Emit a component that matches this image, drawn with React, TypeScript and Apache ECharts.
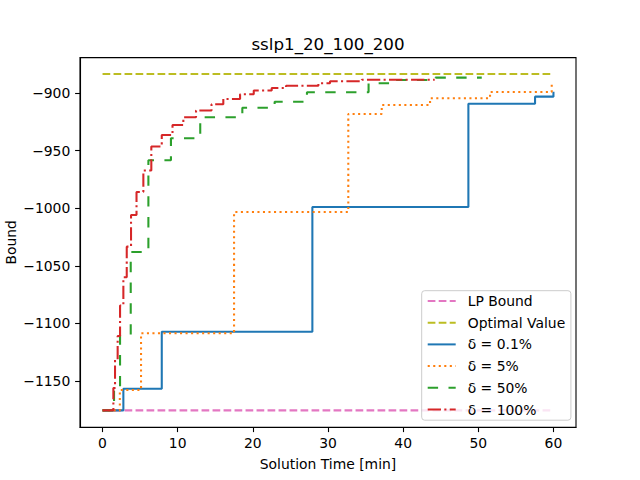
import React, { useEffect, useRef } from "react";
import * as echarts from "echarts";

const FONT = "DejaVu Sans";

const seriesNames = ["LP Bound", "Optimal Value", "δ = 0.1%", "δ = 5%", "δ = 50%", "δ = 100%"];

const lpTimes = [0, 60];
const lpBounds = [-1175.5, -1175.5];

const optTimes = [0, 60];
const optBounds = [-883.5, -883.5];

const d01Times = [0, 2.77, 7.88, 27.92, 48.68, 57.55, 60];
const d01Bounds = [-1175.5, -1156.7, -1107.3, -999, -909.3, -903.2, -899];

const d5Times = [0, 2.3, 5.12, 17.5, 32.7, 37.15, 43.58, 51.56, 59.77];
const d5Bounds = [-1175.5, -1157.8, -1108.6, -1003.3, -918.2, -910.4, -904.6, -899.1, -892.4];

const d50Times = [0, 1.53, 2.33, 3.75, 6.1, 9.1, 13.0, 18.6, 22.9, 27.2, 35.4, 39.0, 44.3, 50.46];
const d50Bounds = [-1175.5, -1156, -1110, -1038, -958.4, -939.3, -921.1, -912.8, -907.6, -899.4, -891.6, -888.7, -886.7, -886.7];

const d100Times = [0, 1.44, 1.66, 2.01, 2.33, 2.77, 3.22, 3.79, 4.52, 5.43, 6.49, 7.88, 9.31, 10.75, 12.44, 14.5, 16.07, 18.3, 20.12, 22.51, 24.42, 28.72, 30.27, 34.5, 44.2];
const d100Bounds = [-1175.5, -1156.1, -1131.8, -1110.9, -1084.5, -1060, -1033.4, -1005.9, -985.9, -967.3, -946.4, -936.5, -927.8, -921.1, -915.2, -909.8, -905.2, -901.1, -897.8, -895.7, -893.7, -891.6, -889.8, -888.5, -888.5];

const xTicks = [0, 10, 20, 30, 40, 50, 60];
const yTicks = [-1150, -1100, -1050, -1000, -950, -900];

const colors = ["#e377c2", "#bcbd22", "#1f77b4", "#ff7f0e", "#2ca02c", "#d62728"];
const dashes: (number[] | "solid")[] = [
  [7.7, 3.3],
  [7.7, 3.3],
  "solid",
  [2.08, 3.44],
  [10.4, 10.4],
  [13.3, 3.33, 2.08, 3.33],
];

const zip = (a: number[], b: number[]) => a.map((v, i) => [v, b[i]]);

export default function App() {
  const ref = useRef<HTMLDivElement>(null);
  useEffect(() => {
    if (!ref.current) return;
    const chart = echarts.init(ref.current, undefined, { renderer: "svg" });
    const dataSets = [
      zip(lpTimes, lpBounds),
      zip(optTimes, optBounds),
      zip(d01Times, d01Bounds),
      zip(d5Times, d5Bounds),
      zip(d50Times, d50Bounds),
      zip(d100Times, d100Bounds),
    ];
    const series = dataSets.map((data, i) => ({
      name: seriesNames[i],
      type: "line",
      data,
      step: i >= 2 ? "end" : undefined,
      symbol: "none",
      showSymbol: false,
      lineStyle: { color: colors[i], width: 2.08, type: dashes[i], cap: "butt" },
      itemStyle: { color: colors[i] },
      emphasis: { disabled: true },
    }));
    chart.setOption({
      animation: false,
      textStyle: { fontFamily: FONT },
      grid: {
        left: 80,
        right: 64,
        top: 57.6,
        bottom: 52.8,
        containLabel: false,
        outerBoundsMode: "none",
        show: true,
        borderColor: "#000",
        borderWidth: 1.1,
        backgroundColor: "transparent",
      },
      graphic: [
        {
          type: "text",
          x: 328,
          y: 44,
          style: {
            text: "sslp1_20_100_200",
            fill: "#000",
            fontSize: 16.7,
            fontFamily: FONT,
            align: "center",
            verticalAlign: "middle",
          },
        },
        {
          type: "text",
          x: 11,
          y: 242.4,
          rotation: Math.PI / 2,
          style: {
            text: "Bound",
            fill: "#000",
            fontSize: 13.9,
            fontFamily: FONT,
            align: "center",
            verticalAlign: "middle",
          },
        },
      ],
      legend: {
        orient: "vertical",
        left: 421.7,
        top: 290.7,
        itemWidth: 28,
        itemHeight: 14,
        itemGap: 7.7,
        padding: [3.3, 5.7, 3.7, 5],
        backgroundColor: "rgba(255,255,255,0.8)",
        borderColor: "#cccccc",
        borderWidth: 1,
        borderRadius: 3,
        itemStyle: { opacity: 0 },
        textStyle: { fontFamily: FONT, fontSize: 13.9, color: "#000", padding: [0, 0, 0, 7] },
        data: seriesNames,
      },
      xAxis: {
        type: "value",
        min: -3,
        max: 63,
        name: "Solution Time [min]",
        nameLocation: "middle",
        nameGap: 30,
        nameTextStyle: { fontFamily: FONT, fontSize: 13.9, color: "#000" },
        axisLine: { show: true, onZero: false, lineStyle: { color: "#000", width: 1.1 } },
        axisTick: { show: true, length: 4.9, lineStyle: { color: "#000", width: 1.1 }, customValues: xTicks },
        axisLabel: { color: "#000", fontSize: 13.9, fontFamily: FONT, margin: 9, customValues: xTicks },
        splitLine: { show: false },
      },
      yAxis: {
        type: "value",
        min: -1190.1,
        max: -869.3,
        axisLine: { show: true, onZero: false, lineStyle: { color: "#000", width: 1.1 } },
        axisTick: { show: true, length: 4.9, lineStyle: { color: "#000", width: 1.1 }, customValues: yTicks },
        axisLabel: {
          color: "#000",
          fontSize: 13.9,
          fontFamily: FONT,
          margin: 9.7,
          customValues: yTicks,
          formatter: (v: number) => String(v).replace("-", "\u2212"),
        },
        splitLine: { show: false },
      },
      series,
    });
    return () => chart.dispose();
  }, []);
  return (
    <div
      ref={ref}
      style={{ position: "absolute", left: 0, top: 0, width: 640, height: 480, background: "#fff" }}
    />
  );
}
